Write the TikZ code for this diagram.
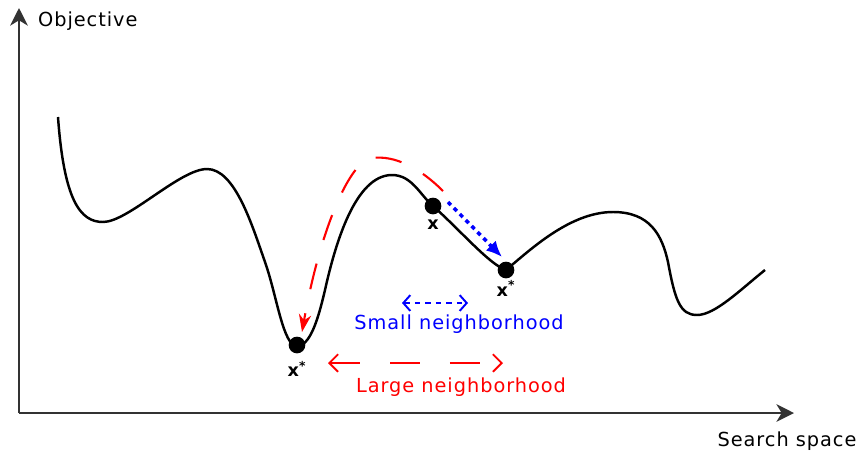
\documentclass[tikz,border=0pt]{standalone}
\usepackage{fontspec}
\setmainfont{DejaVu Sans}[LetterSpace=5]
\usepackage{tikz}
\usetikzlibrary{arrows.meta, positioning}

\begin{document}
\begin{tikzpicture}[x=0.02cm, y=-0.02cm,
  axis/.style={draw=black!80, line width=1.3pt, -{Stealth[length=10pt, width=10pt, inset=3pt]}},
  dot/.style={circle, fill=black, inner sep=0pt, minimum size=9.5pt},
  lbl/.style={font=\fontsize{11}{13}\selectfont, inner sep=1pt},
  ptlbl/.style={font=\fontsize{10}{11}\selectfont\bfseries, inner sep=0pt},
  bigmove/.style={red, line width=1.2pt, dash pattern=on 15pt off 14pt, -{Stealth[length=10pt, width=7pt]}},
  smallmove/.style={blue, line width=2pt, dash pattern=on 2.4pt off 2.4pt, -{Latex[length=9pt, width=8pt]}},
  smallhood/.style={blue, line width=1.1pt, dash pattern=on 3pt off 3pt, {Straight Barb[length=4pt, width=9pt]}-{Straight Barb[length=4pt, width=9pt]}},
  largehood/.style={red, line width=1.1pt, dash pattern=on 17pt off 17pt, {Straight Barb[length=5pt, width=10pt]}-{Straight Barb[length=5pt, width=10pt]}}
]
  \useasboundingbox (0,0) rectangle (866,451);

  \coordinate (o) at (19,413);
  \coordinate (ytip) at (19,8);
  \coordinate (xtip) at (794,413);
  \draw[axis] (o) -- (ytip);
  \draw[axis] (o) -- (xtip);
  \node[lbl, anchor=west] (obj) at (36,21) {Objective};
  \node[lbl] (space) at (787,441) {Search space};

  \draw[line width=1.4pt]
    (58,117) .. controls (64,200) and (80,222) .. (103,222)
    .. controls (128,222) and (180,169) .. (207,169)
    .. controls (235,169) and (252,225) .. (265,262)
    .. controls (277,296) and (283,346) .. (297,346)
    .. controls (310,346) and (318,320) .. (325,290)
    .. controls (335,245) and (355,175) .. (392,175)
    .. controls (412,175) and (420,195) .. (433,206)
    .. controls (460,230) and (490,265) .. (506,270)
    .. controls (530,250) and (570,212) .. (613,212)
    .. controls (650,212) and (662,235) .. (668,262)
    .. controls (675,300) and (680,315) .. (697,315)
    .. controls (715,315) and (740,290) .. (765,270);

  \node[dot] (gmin) at (297,345) {};
  \node[dot] (x) at (433,206) {};
  \node[dot] (lmin) at (506,270) {};
  \node[ptlbl, below=4pt of gmin] (gminlbl) {x\textsuperscript{*}};
  \node[ptlbl, below=3pt of x] (xlbl) {x};
  \node[ptlbl, below=1pt of lmin] (lminlbl) {x\textsuperscript{*}};

  \coordinate (ra) at (443,191);
  \coordinate (rb) at (302,332);
  \draw[bigmove] (ra) .. controls (420,168) and (395,155) .. (372,158)
    .. controls (350,160) and (320,230) .. (rb);
  \draw[smallmove] ([shift={(15,-4)}]x.center) -- ([shift={(-4,-13)}]lmin.center);

  \coordinate (s1) at (402,303);
  \coordinate (s2) at (468,303);
  \draw[smallhood] (s1) -- (s2);
  \node[lbl, blue] (smalllbl) at (459,324) {Small neighborhood};

  \coordinate (l1) at (328,363);
  \coordinate (l2) at (503,363);
  \draw[largehood] (l1) -- (l2);
  \node[lbl, red] (largelbl) at (461,387) {Large neighborhood};
\end{tikzpicture}
\end{document}
